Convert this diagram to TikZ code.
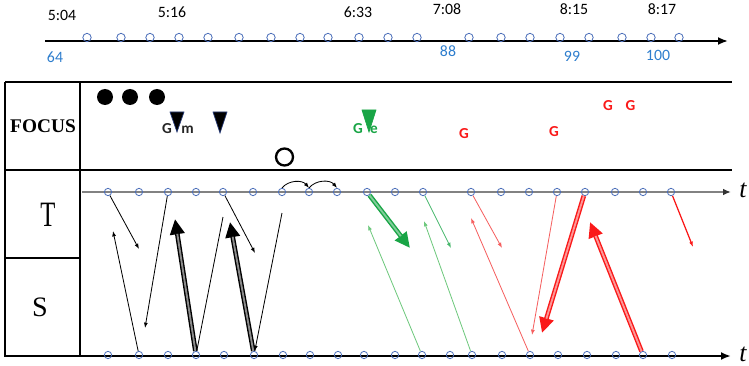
\documentclass[tikz,border=0pt]{standalone}
\usepackage{fontspec}
\setmainfont{Carlito}
\newfontfamily\timesfont{Liberation Serif}
\usetikzlibrary{arrows.meta}
\definecolor{dotblue}{RGB}{75,110,185}
\definecolor{numblue}{RGB}{45,125,205}
\definecolor{navyedge}{RGB}{40,60,120}
\definecolor{leafgreen}{RGB}{25,165,70}
\definecolor{palegreen}{RGB}{110,200,125}
\definecolor{signalred}{RGB}{250,25,25}
\definecolor{palered}{RGB}{245,95,95}
\definecolor{axisgray}{RGB}{130,130,130}

\begin{document}
\begin{tikzpicture}[
  x=0.03cm, y=-0.03cm,
  tick/.style={circle, draw=dotblue, line width=0.7pt, inner sep=0pt, minimum size=0.22cm},
  stamp/.style={font=\fontsize{13.5}{13.5}\selectfont, text=black},
  index/.style={font=\fontsize{13.5}{13.5}\selectfont, text=numblue},
  glyph/.style={font=\fontsize{13}{13}\selectfont\bfseries, anchor=base, inner sep=0pt},
  boxline/.style={line width=1.8pt},
  slim/.style={-{Latex[length=1.6mm, width=1.2mm]}, line width=0.7pt},
  fat/.style={-{Triangle[length=4.6mm, width=4.2mm]}, line width=4pt,
    postaction={draw=#1, line width=1.6pt, -, shorten >=4.5mm}},
  drop/.style={line width=0.6pt, line join=miter}
]
\useasboundingbox (0,0) rectangle (749,366);

% time line on top
\draw[line width=1.6pt, -{Latex[length=3mm, width=2.4mm]}] (45,41) -- (728,41);
\foreach \px [count=\i] in {87,121,150,179,208,239,271,300,328,359,388,417,469,501,530,560,589,622,651,679}
  \node[tick, minimum size=0.25cm] (c\i) at (\px,37.5) {};
\node[stamp] (h504) at (62,15) {5:04};
\node[stamp] (h516) at (172,12) {5:16};
\node[stamp] (h633) at (358,12) {6:33};
\node[stamp] (h708) at (447,9) {7:08};
\node[stamp] (h815) at (574,9) {8:15};
\node[stamp] (h817) at (662,9) {8:17};
\node[index] (n64) at (55,57) {64};
\node[index] (n88) at (448,51) {88};
\node[index] (n99) at (572,56) {99};
\node[index] (n100) at (658,55) {100};

% table
\draw[boxline] (5,82) -- (732,82);
\draw[boxline] (5,170) -- (732,170);
\draw[boxline] (5,82) -- (5,357);
\draw[boxline] (80,82) -- (80,357);
\draw[boxline] (5,258) -- (80,258);
\node[font=\timesfont\bfseries\fontsize{16.5}{16.5}\selectfont] (focus) at (43,126) {FOCUS};
\node[font=\timesfont\fontsize{21}{21}\selectfont, yscale=1.45] (rowT) at (48,215) {T};
\node[font=\timesfont\fontsize{24}{24}\selectfont] (rowS) at (40,307) {S};

% axes
\draw[line width=1.4pt, axisgray, -{Latex[length=2.4mm, width=2mm, color=black!80]}] (82,192) -- (731,192);
\draw[boxline, -{Latex[length=3mm, width=2.4mm]}] (5,356) -- (731,356);
\node[font=\timesfont\itshape\fontsize{22}{22}\selectfont] (tT) at (743,190) {t};
\node[font=\timesfont\itshape\fontsize{22}{22}\selectfont] (tS) at (743,354) {t};
\foreach \px [count=\i] in {108,139,168,196,223,253,282,309,337,367,395,423,471,501,529,557,585,615,643,671}
  \node[tick] (t\i) at (\px,192) {};
\foreach \px [count=\i] in {108,139,168,196,224,254,283,310,338,364,395,422,450,472,502,530,558,587,616,643,672}
  \node[tick] (s\i) at (\px,355) {};

% focus marks
\node[circle, fill, inner sep=0pt, minimum size=0.48cm] (ball1) at (105,97) {};
\node[circle, fill, inner sep=0pt, minimum size=0.48cm] (ball2) at (130,97) {};
\node[circle, fill, inner sep=0pt, minimum size=0.48cm] (ball3) at (157,97) {};
\node[circle, draw, line width=2pt, inner sep=0pt, minimum size=0.51cm] (ring) at (284.5,157) {};
\filldraw[drop, fill=black, draw=navyedge] (170,112) -- (184,112) -- (177,132) -- cycle;
\filldraw[drop, fill=black, draw=navyedge] (213,112) -- (227,112) -- (220,133) -- cycle;
\filldraw[drop, fill=leafgreen, draw=leafgreen] (362,110) -- (376,110) -- (369,132) -- cycle;
\node[glyph, text=black!85] (gm) at (167,134) {G};
\node[glyph, text=black!85] (m) at (187.5,134) {m};
\node[glyph, text=leafgreen] (ge) at (358,134) {G};
\node[glyph, text=leafgreen] (e) at (374,134) {e};
\node[glyph, text=signalred] (g1) at (464,138) {G};
\node[glyph, text=signalred] (g2) at (554,137) {G};
\node[glyph, text=signalred] (g3) at (608,111) {G};
\node[glyph, text=signalred] (g4) at (630.5,111) {G};

% free ends
\coordinate (b1) at (139,249);
\coordinate (b2) at (113,231);
\coordinate (b3) at (145,328);
\coordinate (b4) at (175,219);
\coordinate (b5) at (223,217);
\coordinate (b6) at (230,222);
\coordinate (b7) at (255,253);
\coordinate (b8) at (282,213);
\coordinate (v1) at (410,248);
\coordinate (v2) at (368,225);
\coordinate (v3) at (451,248);
\coordinate (v4) at (424,221);
\coordinate (r1) at (502,248);
\coordinate (r2) at (471,218);
\coordinate (r3) at (532,335);
\coordinate (r4) at (542,333);
\coordinate (r5) at (590,222);
\coordinate (r6) at (693,247);

% black moves
\draw[slim] (t1) -- (b1);
\draw[slim] (s2) -- (b2);
\draw[slim] (t3) -- (b3);
\draw[fat=black!45, black] (s4) -- (b4);
\draw[line width=0.7pt] (s4) -- (b5);
\draw[fat=black!45, black] (s6) -- (b6);
\draw[slim] (t5) -- (b7);
\draw[slim] (b8) -- (s6);
\draw[slim] (t7.north) to[bend left=50] (t8.north);
\draw[slim] (t8.north) to[bend left=50] (t9.north);

% green moves
\draw[fat=leafgreen!55, leafgreen] (t10) -- (v1);
\draw[slim, palegreen] (s12) -- (v2);
\draw[slim, leafgreen!80] (t12) -- (v3);
\draw[slim, palegreen] (s14) -- (v4);

% red moves
\draw[slim, palered] (t13) -- (r1);
\draw[slim, palered] (s16) -- (r2);
\draw[slim, palered] (t16) -- (r3);
\draw[fat=signalred!45, signalred] (t17) -- (r4);
\draw[fat=signalred!45, signalred] (s20) -- (r5);
\draw[slim, signalred, line width=1.1pt] (t20) -- (r6);
\end{tikzpicture}
\end{document}
